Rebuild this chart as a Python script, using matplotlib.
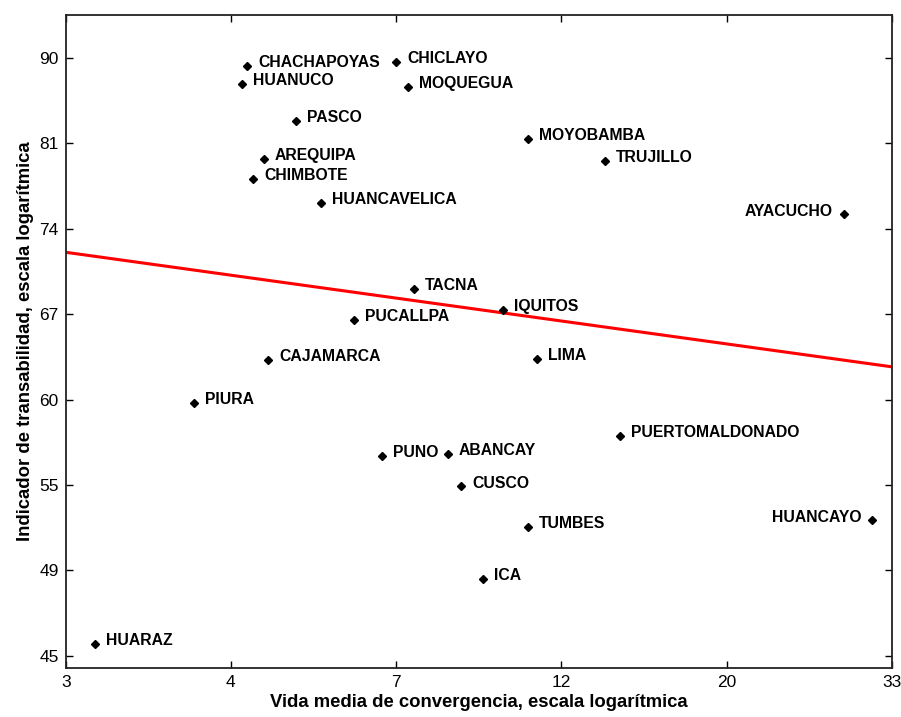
import numpy as np
import matplotlib
matplotlib.use("Agg")
import matplotlib.pyplot as plt
from matplotlib.ticker import FixedLocator, FixedFormatter, NullLocator

plt.rcParams['font.family'] = ['Liberation Sans', 'DejaVu Sans']

cities = ["CHACHAPOYAS", "HUANUCO", "PASCO", "AREQUIPA", "CHIMBOTE", "HUANCAVELICA",
          "CHICLAYO", "MOQUEGUA", "MOYOBAMBA", "TRUJILLO", "AYACUCHO", "TACNA",
          "PUCALLPA", "CAJAMARCA", "PIURA", "PUNO", "ABANCAY", "IQUITOS", "LIMA",
          "PUERTOMALDONADO", "CUSCO", "TUMBES", "ICA", "HUANCAYO", "HUARAZ"]
vida_media = [5.08, 5.00, 5.85, 5.33, 5.17, 6.29,
              7.83, 8.11, 11.47, 14.36, 28.73, 8.24,
              6.93, 5.40, 4.35, 7.51, 9.09, 10.67, 11.79,
              14.98, 9.45, 11.47, 10.07, 31.19, 3.27]
transabilidad = [89.2, 87.3, 83.6, 80.0, 78.1, 76.0,
                 89.6, 87.0, 81.9, 79.8, 75.0, 68.7,
                 66.2, 63.2, 60.1, 56.5, 56.6, 67.0, 63.3,
                 57.8, 54.5, 52.0, 48.9, 52.4, 45.3]
label_left = ["AYACUCHO", "HUANCAYO"]

trend_x = [3.0, 33.0]
trend_y = [71.7, 62.7]

x_tick_labels = ["3", "4", "7", "12", "20", "33"]
y_tick_labels = ["45", "49", "55", "60", "67", "74", "81", "90"]

fig = plt.figure(figsize=(9.01, 7.17), dpi=100)
ax = fig.add_axes([0.0729, 0.0688, 0.9168, 0.9103])

ax.set_xscale('log')
ax.set_yscale('log')

ax.plot(trend_x, trend_y, color='#ff0000', lw=2.2, zorder=2)
ax.plot(vida_media, transabilidad, linestyle='none', marker='D', ms=4.2,
        color='black', zorder=3)

for name, x, y in zip(cities, vida_media, transabilidad):
    if name in label_left:
        ax.annotate(name, (x, y), xytext=(-8, 2), textcoords='offset points',
                    ha='right', va='center', fontsize=11.3, fontweight='bold')
    else:
        ax.annotate(name, (x, y), xytext=(8, 2.5), textcoords='offset points',
                    ha='left', va='center', fontsize=11.3, fontweight='bold')

ax.set_xlim(3, 33)
ax.set_ylim(np.exp(3.786), np.exp(4.5504))

xt = np.geomspace(3, 33, len(x_tick_labels))
yt = np.exp(np.linspace(3.8, 4.5, len(y_tick_labels)))
ax.xaxis.set_major_locator(FixedLocator(xt))
ax.xaxis.set_major_formatter(FixedFormatter(x_tick_labels))
ax.yaxis.set_major_locator(FixedLocator(yt))
ax.yaxis.set_major_formatter(FixedFormatter(y_tick_labels))
ax.xaxis.set_minor_locator(NullLocator())
ax.yaxis.set_minor_locator(NullLocator())

ax.tick_params(direction='in', length=5, width=1, top=True, right=True,
               labelsize=12.5, pad=5)
for s in ax.spines.values():
    s.set_linewidth(1.3)
    s.set_color('#222222')

ax.set_xlabel("Vida media de convergencia, escala logarítmica", fontsize=13.3,
              fontweight='bold', labelpad=3)
ax.set_ylabel("Indicador de transabilidad, escala logarítmica", fontsize=13.3,
              fontweight='bold', labelpad=4)

fig.savefig("out.png", dpi=100)
